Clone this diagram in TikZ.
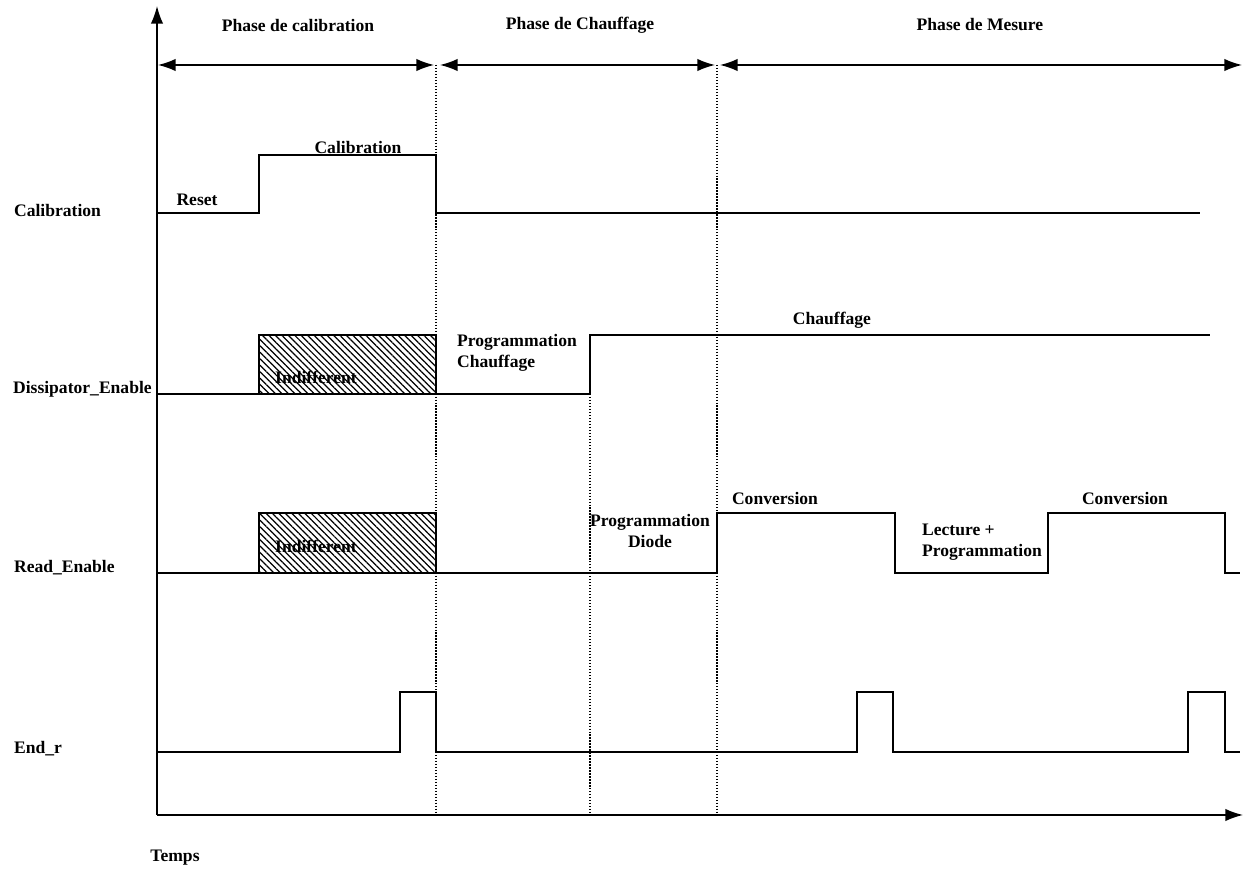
\documentclass[tikz,border=0pt]{standalone}
\usepackage{fontspec}
\setmainfont{Liberation Serif}
\usetikzlibrary{arrows.meta,patterns.meta}

\tikzset{
  lbl/.style={font=\bfseries\fontsize{10}{12}\selectfont, inner sep=1pt},
  sig/.style={line width=1pt},
  ax/.style={line width=0.8pt, -{Latex[length=10pt,width=7pt]}},
  span/.style={line width=0.8pt, {Latex[length=10pt,width=7pt]}-{Latex[length=10pt,width=7pt]}},
  cut/.style={densely dotted, line width=0.7pt},
  hatch/.style={draw, line width=0.8pt, pattern={Lines[angle=-45,distance=2.6pt,line width=0.7pt]}},
}

\begin{document}
\begin{tikzpicture}[x=0.02cm, y=-0.02cm]
                \useasboundingbox (0,0) rectangle (1249,874);

                % axes
                \coordinate (orig) at (157,815);
                \coordinate (ytop) at (157,6);
                \coordinate (xend) at (1243,815);
                \draw[ax] (orig) -- (ytop);
                \draw[ax] (orig) -- (xend);
                \node[lbl] (temps) at (175,858) {Temps};

                % phases
                \coordinate (p0) at (158,65);
                \coordinate (p1a) at (434,65);
                \coordinate (p1b) at (440,65);
                \coordinate (p2a) at (715,65);
                \coordinate (p2b) at (720,65);
                \coordinate (p3) at (1242,65);
                \draw[span] (p0) -- (p1a);
                \draw[span] (p1b) -- (p2a);
                \draw[span] (p2b) -- (p3);
                \node[lbl] (phcal) at (298,25) {Phase de calibration};
                \node[lbl] (phch) at (580,25) {Phase de Chauffage};
                \node[lbl] (phmes) at (980,25) {Phase de Mesure};

                \draw[cut] (436,65) -- (436,815);
                \draw[cut] (590,394) -- (590,815);
                \draw[cut] (717,65) -- (717,815);

                % signal names
                \node[lbl, anchor=west] (ncal) at (12,210) {Calibration};
                \node[lbl, anchor=west] (ndis) at (11,389) {Dissipator\_Enable};
                \node[lbl, anchor=west] (nread) at (12,568) {Read\_Enable};
                \node[lbl, anchor=west] (nend) at (12,749) {End\_r};

                % Calibration
                \draw[sig] (157,213) -| (259,155) -| (436,213) -- (1200,213);
                \node[lbl] (reset) at (197,200) {Reset};
                \node[lbl] (calib) at (358,147) {Calibration};

                % Dissipator_Enable
                \draw[hatch] (259,335) rectangle (436,394);
                \node[lbl] (indif1) at (316,377) {Indifferent};
                \draw[sig] (157,394) -| (590,335) -- (1210,335);
                \node[lbl, align=left, anchor=north west] (progch) at (455,332) {Programmation\\Chauffage};
                \node[lbl] (chauf) at (832,320) {Chauffage};

                % Read_Enable
                \draw[hatch] (259,513) rectangle (436,573);
                \node[lbl] (indif2) at (316,546) {Indifferent};
                \draw[sig] (157,573) -| (717,513) -| (895,573) -| (1048,513) -| (1225,573) -- (1240,573);
                \node[lbl, align=center, anchor=north] (progdi) at (650,512) {Programmation\\Diode};
                \node[lbl] (conv1) at (775,498) {Conversion};
                \node[lbl, align=left, anchor=north west] (lect) at (920,522) {Lecture +\\Programmation};
                \node[lbl] (conv2) at (1125,498) {Conversion};

                % End_r
                \draw[sig] (157,752) -| (400,692) -| (436,752) -| (857,692) -| (893,752) -| (1188,692) -| (1225,752) -- (1240,752);
            \end{tikzpicture}
\end{document}
